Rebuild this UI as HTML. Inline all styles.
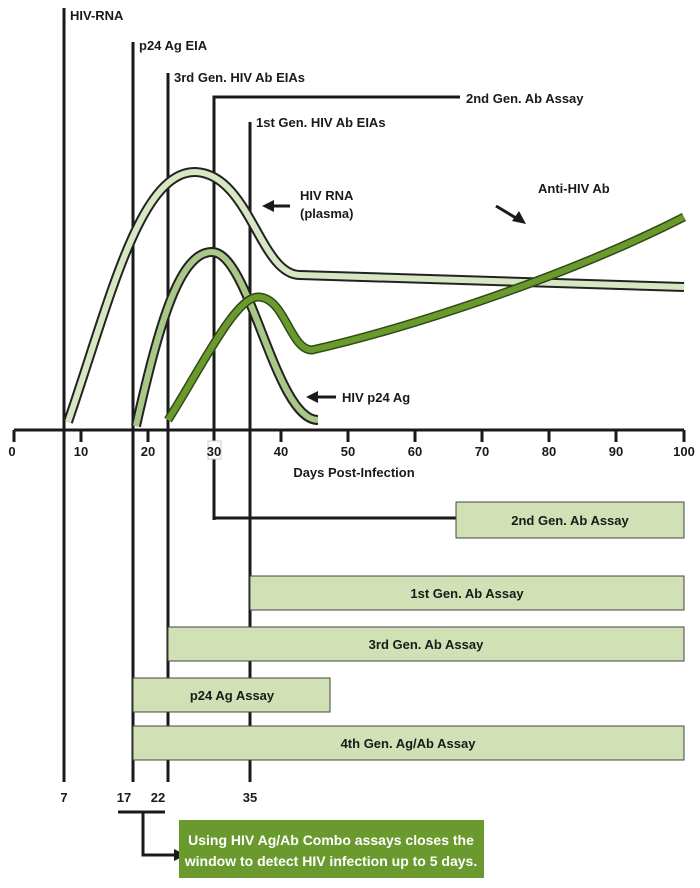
<!DOCTYPE html><html><head><style>body{margin:0;background:#fff}svg{display:block}text{font-family:"Liberation Sans Narrow","Liberation Sans",sans-serif;font-weight:bold}</style></head><body>
<svg width="700" height="888" viewBox="0 0 700 888">
<g stroke="#1a1a1a" stroke-width="3" fill="none">
<line x1="14" y1="430" x2="684" y2="430"/>
<path d="M14 430v12M81 430v12M148 430v12M281 430v12M348 430v12M415 430v12M482 430v12M549 430v12M616 430v12M684 430v12"/>
<line x1="64" y1="8" x2="64" y2="782"/>
<line x1="133" y1="42" x2="133" y2="782"/>
<line x1="168" y1="73" x2="168" y2="782"/>
<path d="M214 520V97H460"/>
<path d="M214 465V518H458"/>
<line x1="250" y1="122" x2="250" y2="782"/>
<line x1="118" y1="812" x2="165" y2="812"/>
<path d="M143 812V855H176"/>
<line x1="268" y1="206" x2="290" y2="206"/><line x1="312" y1="397" x2="336" y2="397"/><line x1="496" y1="206" x2="516" y2="218"/>
</g>
<g fill="#1a1a1a"><polygon points="262,206 274,200 274,212"/><polygon points="306,397 318,391 318,403"/><polygon points="526,224 512,221 519,211"/><polygon points="186,855 174,849 174,861"/></g>
<g fill="none" stroke-linecap="butt">
<path d="M68 422 C110 300,140 170,196 172 C250 175,260 275,300 275 L684 287" stroke="#222" stroke-width="10"/>
<path d="M68 422 C110 300,140 170,196 172 C250 175,260 275,300 275 L684 287" stroke="#d7e6c3" stroke-width="6"/>
<path d="M136 426 C160 320,180 252,212 252 C250 252,275 420,318 420" stroke="#222" stroke-width="10"/>
<path d="M136 426 C160 320,180 252,212 252 C250 252,275 420,318 420" stroke="#a9c888" stroke-width="6"/>
<path d="M168 420 C200 370,235 297,258 297 C285 297,290 350,312 350 C400 330,560 280,684 217" stroke="#2f4a14" stroke-width="9"/>
<path d="M168 420 C200 370,235 297,258 297 C285 297,290 350,312 350 C400 330,560 280,684 217" stroke="#6a9a2e" stroke-width="6"/>
</g>
<rect x="208" y="441" width="13" height="18" fill="#fff" stroke="#ccc"/>
<g font-size="13" fill="#1a1a1a" text-anchor="middle">
<text x="12" y="456">0</text><text x="81" y="456">10</text><text x="148" y="456">20</text><text x="214" y="456">30</text><text x="281" y="456">40</text><text x="348" y="456">50</text><text x="415" y="456">60</text><text x="482" y="456">70</text><text x="549" y="456">80</text><text x="616" y="456">90</text><text x="684" y="456">100</text>
<text x="354" y="477">Days Post-Infection</text>
<text x="64" y="802">7</text><text x="124" y="802">17</text><text x="158" y="802">22</text><text x="250" y="802">35</text>
</g>
<g font-size="13" fill="#1a1a1a">
<text x="70" y="20">HIV-RNA</text><text x="139" y="50">p24 Ag EIA</text><text x="174" y="82">3rd Gen. HIV Ab EIAs</text><text x="466" y="103">2nd Gen. Ab Assay</text><text x="256" y="127">1st Gen. HIV Ab EIAs</text>
<text x="300" y="200">HIV RNA</text><text x="300" y="218">(plasma)</text><text x="342" y="402">HIV p24 Ag</text><text x="538" y="193">Anti-HIV Ab</text>
</g>
<g fill="#d1e0b5" stroke="#444" stroke-width="1">
<rect x="456" y="502" width="228" height="36"/><rect x="250" y="576" width="434" height="34"/><rect x="168" y="627" width="516" height="34"/><rect x="133" y="678" width="197" height="34"/><rect x="133" y="726" width="551" height="34"/>
</g>
<g font-size="13" fill="#1a1a1a" text-anchor="middle">
<text x="570" y="525">2nd Gen. Ab Assay</text><text x="467" y="598">1st Gen. Ab Assay</text><text x="426" y="649">3rd Gen. Ab Assay</text><text x="232" y="700">p24 Ag Assay</text><text x="408" y="748">4th Gen. Ag/Ab Assay</text>
</g>
<rect x="179" y="820" width="305" height="58" fill="#6a9a2e"/>
<g font-size="14" fill="#fff" text-anchor="middle"><text x="331" y="845">Using HIV Ag/Ab Combo assays closes the</text><text x="331" y="866">window to detect HIV infection up to 5 days.</text></g>
</svg></body></html>
